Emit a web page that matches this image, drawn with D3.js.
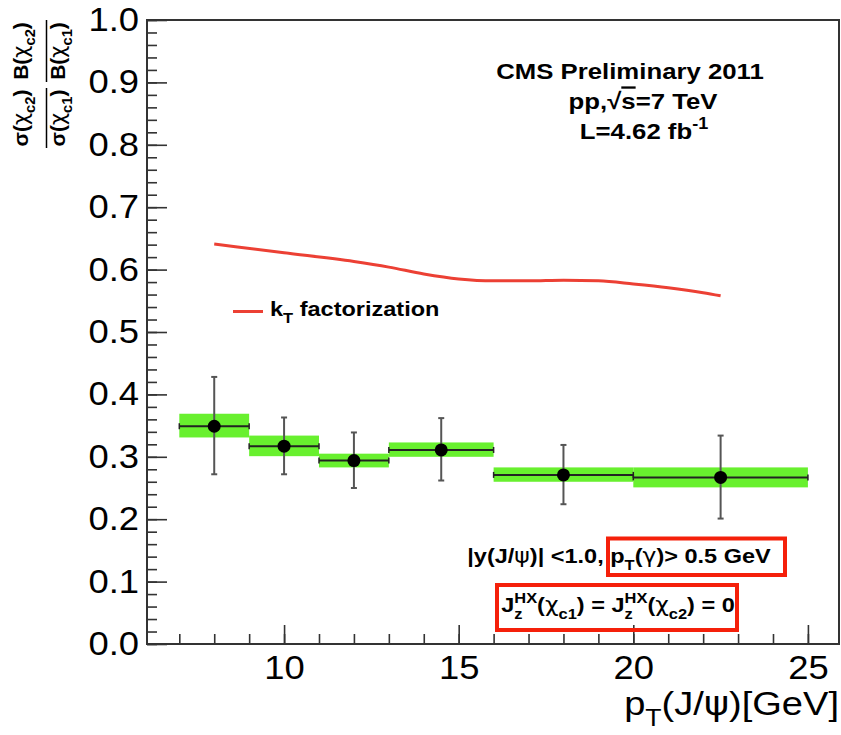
<!DOCTYPE html>
<html><head><meta charset="utf-8">
<script src="https://cdn.jsdelivr.net/npm/d3@7/dist/d3.min.js"></script>
<style>
body{margin:0;background:#fff}
svg{display:block}
text{font-family:"Liberation Sans",Arial,Helvetica,sans-serif;fill:#000}
</style>
</head><body>
<svg id="c" width="841" height="735"></svg>
<script>
// ---- data ----
const binLo   = [7, 9, 11, 13, 16, 20];
const binHi   = [9, 11, 13, 16, 20, 25];
const ptMean  = [8, 10, 12, 14.5, 18, 22.5];
const ratio   = [0.349, 0.317, 0.294, 0.311, 0.271, 0.267];
const statLo  = [0.272, 0.272, 0.250, 0.262, 0.224, 0.201];
const statHi  = [0.428, 0.363, 0.339, 0.362, 0.319, 0.334];
const sysLo   = [0.331, 0.301, 0.283, 0.300, 0.260, 0.251];
const sysHi   = [0.369, 0.334, 0.305, 0.323, 0.283, 0.283];
const ktPt    = [8, 10, 12, 13, 14, 15, 16, 17, 18, 19, 20, 21, 22, 22.5];
const ktRatio = [0.641, 0.627, 0.613, 0.604, 0.593, 0.585, 0.582, 0.582, 0.583, 0.582, 0.577, 0.571, 0.563, 0.558];
const xMajorTicks = [10, 15, 20, 25];
const yMajorTicks = [0, 0.1, 0.2, 0.3, 0.4, 0.5, 0.6, 0.7, 0.8, 0.9, 1.0];

// ---- layout ----
const svg = d3.select("#c");
const L = 147, R = 839, T = 20, B = 644;
const S = 1.12; // horizontal stretch of the original rendering's text
const x = d3.scaleLinear().domain([6.075, 25.89]).range([L, R]);
const y = d3.scaleLinear().domain([0, 1]).range([B, T]);
const GREEK = "DejaVu Sans";

function rich(t, parts, fs) {
  let cur = 0;
  parts.forEach(p => {
    const [s, type, dx, fam] = p;
    const target = type === "sub" ? fs * 0.32 : type === "sup" ? -fs * 0.42 : 0;
    const ts = t.append("tspan").text(s).attr("dy", target - cur);
    if (type !== "n") ts.attr("font-size", fs * 0.7);
    if (dx) ts.attr("dx", dx);
    if (fam) ts.attr("font-family", fam).attr("font-weight", "normal");
    cur = target;
  });
  return t;
}
function stext(px, py, anchor, fs, weight) {
  const g = svg.append("g").attr("transform", `translate(${px},${py}) scale(${S},1)`);
  return g.append("text").attr("text-anchor", anchor).attr("font-size", fs).attr("font-weight", weight || "normal");
}

// ---- systematic boxes ----
svg.append("g").selectAll("rect").data(d3.range(binLo.length)).join("rect")
  .attr("x", i => x(binLo[i])).attr("width", i => x(binHi[i]) - x(binLo[i]))
  .attr("y", i => y(sysHi[i])).attr("height", i => y(sysLo[i]) - y(sysHi[i]))
  .attr("fill", "#68f02e");

// ---- kT factorization curve ----
svg.append("path").datum(d3.range(ktPt.length))
  .attr("fill", "none").attr("stroke", "#ec4034").attr("stroke-width", 3)
  .attr("d", d3.line().x(i => x(ktPt[i])).y(i => y(ktRatio[i])).curve(d3.curveMonotoneX));

// ---- data points ----
const pts = svg.append("g");
d3.range(binLo.length).forEach(i => {
  const cx = x(ptMean[i]), cy = y(ratio[i]);
  pts.append("line").attr("x1", cx).attr("x2", cx).attr("y1", y(statHi[i])).attr("y2", y(statLo[i]))
    .attr("stroke", "#555").attr("stroke-width", 2);
  [statHi[i], statLo[i]].forEach(v => pts.append("line").attr("x1", cx - 3).attr("x2", cx + 3)
    .attr("y1", y(v)).attr("y2", y(v)).attr("stroke", "#555").attr("stroke-width", 2));
  pts.append("line").attr("x1", x(binLo[i])).attr("x2", x(binHi[i])).attr("y1", cy).attr("y2", cy)
    .attr("stroke", "#222").attr("stroke-width", 2);
  [binLo[i], binHi[i]].forEach(v => pts.append("line").attr("x1", x(v)).attr("x2", x(v))
    .attr("y1", cy - 3).attr("y2", cy + 3).attr("stroke", "#222").attr("stroke-width", 1.5));
  pts.append("circle").attr("cx", cx).attr("cy", cy).attr("r", 6.5).attr("fill", "#000");
});

// ---- frame & axes ----
svg.append("rect").attr("x", L).attr("y", T).attr("width", R - L).attr("height", B - T)
  .attr("fill", "none").attr("stroke", "#333").attr("stroke-width", 2);

const yMinor = svg.append("g").attr("transform", `translate(${L},0)`)
  .call(d3.axisLeft(y).tickValues(d3.range(0, 1.0001, 0.02)).tickSize(-10).tickFormat(""));
const yMajor = svg.append("g").attr("transform", `translate(${L},0)`)
  .call(d3.axisLeft(y).tickValues(yMajorTicks).tickSize(-20).tickPadding(8).tickFormat(d3.format(".1f")));
const xMinor = svg.append("g").attr("transform", `translate(0,${B})`)
  .call(d3.axisBottom(x).tickValues(d3.range(7, 26, 1)).tickSize(-10).tickFormat(""));
const xMajor = svg.append("g").attr("transform", `translate(0,${B})`)
  .call(d3.axisBottom(x).tickValues(xMajorTicks).tickSize(-19).tickPadding(12).tickFormat(d3.format("d")));
[yMinor, yMajor, xMinor, xMajor].forEach(a => {
  a.select(".domain").remove();
  a.selectAll("line").attr("stroke", "#333").attr("stroke-width", 1.6);
});
yMajor.selectAll("text").attr("font-size", 32.5).attr("font-family", "Liberation Sans, Arial, sans-serif")
  .attr("fill", "#000").attr("transform", `scale(${S},1)`).attr("x", -8 / S);
xMajor.selectAll("text").attr("font-size", 32.5).attr("font-family", "Liberation Sans, Arial, sans-serif")
  .attr("fill", "#000").attr("transform", `scale(${S},1)`);

// ---- x axis title ----
rich(stext(839, 715, "end", 34), [["p", "n"], ["T", "sub"], ["(J/", "n"], ["ψ", "n", 0, GREEK], (")[GeV]".length ? [")[GeV]", "n"] : null)], 34);

// ---- y axis title (rotated) ----
const yt = svg.append("g").attr("transform", "rotate(-90)");
function ylab(cy, base, parts) {
  const t = yt.append("text").attr("x", -cy).attr("y", base).attr("text-anchor", "middle")
    .attr("font-size", 21).attr("font-weight", "bold");
  rich(t, parts, 21);
}
ylab(118, 28, [["σ(", "n"], ["χ", "n", 0, GREEK], ["c2", "sub"], [")", "n"]]);
ylab(118, 65, [["σ(", "n"], ["χ", "n", 0, GREEK], ["c1", "sub"], [")", "n"]]);
ylab(51, 28, [["B(", "n"], ["χ", "n", 0, GREEK], ["c2", "sub"], [")", "n"]]);
ylab(51, 65, [["B(", "n"], ["χ", "n", 0, GREEK], ["c1", "sub"], [")", "n"]]);
yt.append("line").attr("x1", -20).attr("x2", -82).attr("y1", 46.5).attr("y2", 46.5).attr("stroke", "#000").attr("stroke-width", 1.5);
yt.append("line").attr("x1", -88).attr("x2", -148).attr("y1", 46.5).attr("y2", 46.5).attr("stroke", "#000").attr("stroke-width", 1.5);

// ---- header text ----
stext(630, 79, "middle", 23, "bold").text("CMS Preliminary 2011");
const pp = stext(643, 109, "middle", 23, "bold");
pp.append("tspan").text("pp,√");
pp.append("tspan").text("s").attr("text-decoration", "overline");
pp.append("tspan").text("=7 TeV");
rich(stext(644, 139, "middle", 23, "bold"), [["L=4.62 fb", "n"], ["-1", "sup"]], 23);

// ---- legend ----
svg.append("line").attr("x1", 233).attr("x2", 263).attr("y1", 311.5).attr("y2", 311.5)
  .attr("stroke", "#ec4034").attr("stroke-width", 3);
rich(stext(270, 316, "start", 21, "bold"), [["k", "n"], ["T", "sub"], [" factorization", "n"]], 21);

// ---- selection annotations ----
rich(stext(619, 563, "middle", 21, "bold"),
  [["|y(J/", "n"], ["ψ", "n", 0, GREEK], [")| <1.0, p", "n"], ["T", "sub"], ["(", "n"], ["γ", "n", 0, GREEK], [")> 0.5 GeV", "n"]], 21);
const hxW = 1.389 * 21 * 0.7, zW = 0.5 * 21 * 0.7;
rich(stext(618, 612, "middle", 21, "bold"),
  [["J", "n"], ["HX", "sup"], ["z", "sub", -hxW], ["(", "n", hxW - zW], ["χ", "n", 0, GREEK], ["c1", "sub"], [") = J", "n"],
   ["HX", "sup"], ["z", "sub", -hxW], ["(", "n", hxW - zW], ["χ", "n", 0, GREEK], ["c2", "sub"], [") = 0", "n"]], 21);
svg.append("rect").attr("x", 608).attr("y", 538.5).attr("width", 177).attr("height", 36.5)
  .attr("fill", "none").attr("stroke", "#f5200a").attr("stroke-width", 4);
svg.append("rect").attr("x", 497).attr("y", 585).attr("width", 240).attr("height", 45)
  .attr("fill", "none").attr("stroke", "#f5200a").attr("stroke-width", 4);
</script>
</body></html>
